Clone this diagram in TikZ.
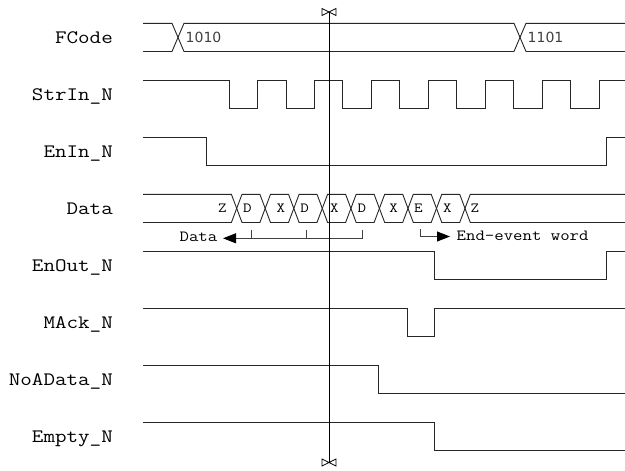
\documentclass[tikz,border=0pt]{standalone}
\usepackage{graphicx}
\usepackage{fontspec}
\newfontfamily\digitfont{DejaVu Sans}
\usetikzlibrary{arrows.meta}
\newcommand\mywide[1]{\scalebox{1.18}[1]{#1}}
\begin{document}
\begin{tikzpicture}[x=1pt,y=-1pt,
  wave/.style={draw=black!85, line width=0.9pt},
  cursorline/.style={draw=black, line width=0.8pt},
  annline/.style={draw=black!75, line width=0.9pt},
  anntip/.style={-{Triangle[length=13pt,width=10pt,color=black]}},
  siglabel/.style={anchor=base east, inner sep=0pt, font=\ttfamily\fontsize{19}{19}\selectfont},
  buslabel/.style={anchor=base, inner sep=0pt, font=\ttfamily\fontsize{14}{14}\selectfont},
  annlabel/.style={inner sep=0pt, font=\ttfamily\fontsize{15.5}{15.5}\selectfont},
  vallabel/.style={anchor=base west, inner sep=0pt, text=black!75, font=\digitfont\fontsize{14}{14}\selectfont}]
\useasboundingbox (0,0) rectangle (625,471);

% signal names
\node[siglabel] (lFCode)   at (113,43.2)  {\mywide{FCode}};
\node[siglabel] (lStrIn)   at (113,100.2) {\mywide{StrIn\_N}};
\node[siglabel] (lEnIn)    at (113,157.2) {\mywide{EnIn\_N}};
\node[siglabel] (lData)    at (113,214.2) {\mywide{Data}};
\node[siglabel] (lEnOut)   at (113,271.2) {\mywide{EnOut\_N}};
\node[siglabel] (lMAck)    at (113,328.2) {\mywide{MAck\_N}};
\node[siglabel] (lNoAData) at (113,385.2) {\mywide{NoAData\_N}};
\node[siglabel] (lEmpty)   at (113,442.2) {\mywide{Empty\_N}};

% FCode bus
\draw[wave] (143,23.3) -- (172,23.3) -- (184,51.5) -- (514,51.5) -- (526,23.3) -- (625,23.3);
\draw[wave] (143,51.5) -- (172,51.5) -- (184,23.3) -- (514,23.3) -- (526,51.5) -- (625,51.5);
\node[vallabel] (v1010) at (185.5,42.5) {1010};
\node[vallabel] (v1101) at (527.5,42.5) {1101};

% StrIn_N
\draw[wave] (143,80.3) -| (229.0,108.5) -| (257.5,80.3) -| (286.0,108.5) -| (314.4,80.3)
  -| (342.9,108.5) -| (371.4,80.3) -| (399.9,108.5) -| (428.4,80.3) -| (456.8,108.5)
  -| (485.3,80.3) -| (513.8,108.5) -| (542.3,80.3) -| (570.8,108.5) -| (599.2,80.3) -- (625,80.3);

% EnIn_N
\draw[wave] (143,137.3) -| (206.7,165.5) -| (606.7,137.3) -- (625,137.3);

% Data bus
\draw[wave] (143,194.3) -- (231.4,194.3) -- (242.0,222.5) -- (259.9,222.5) -- (270.5,194.3)
  -- (288.5,194.3) -- (299.1,222.5) -- (317.0,222.5) -- (327.6,194.3) -- (345.6,194.3)
  -- (356.2,222.5) -- (374.1,222.5) -- (384.7,194.3) -- (402.7,194.3) -- (413.3,222.5)
  -- (431.2,222.5) -- (441.8,194.3) -- (459.7,194.3) -- (470.3,222.5) -- (625,222.5);
\draw[wave] (143,222.5) -- (231.4,222.5) -- (242.0,194.3) -- (259.9,194.3) -- (270.5,222.5)
  -- (288.5,222.5) -- (299.1,194.3) -- (317.0,194.3) -- (327.6,222.5) -- (345.6,222.5)
  -- (356.2,194.3) -- (374.1,194.3) -- (384.7,222.5) -- (402.7,222.5) -- (413.3,194.3)
  -- (431.2,194.3) -- (441.8,222.5) -- (459.7,222.5) -- (470.3,194.3) -- (625,194.3);
\node[buslabel] (b0) at (222.5,212.6) {\mywide{Z}};
\node[buslabel] (b1) at (247.5,212.6) {\mywide{D}};
\node[buslabel] (b2) at (281.0,212.6) {\mywide{X}};
\node[buslabel] (b3) at (304.7,212.6) {\mywide{D}};
\node[buslabel] (b4) at (334.3,212.6) {\mywide{X}};
\node[buslabel] (b5) at (362.0,212.6) {\mywide{D}};
\node[buslabel] (b6) at (393.7,212.6) {\mywide{X}};
\node[buslabel] (b7) at (418.5,212.6) {\mywide{E}};
\node[buslabel] (b8) at (447.3,212.6) {\mywide{X}};
\node[buslabel] (b9) at (475.0,212.6) {\mywide{Z}};

% annotations under Data
\node[annlabel, anchor=base east] (adata) at (217.5,241.7) {\mywide{Data}};
\coordinate (dtip) at (223,238.3);
\coordinate (t1) at (251,230);
\coordinate (t2) at (306,230);
\coordinate (t3) at (362.7,230);
\draw[annline, anntip] (t3) |- (dtip);
\draw[annline] (t1) -- (t1 |- dtip);
\draw[annline] (t2) -- (t2 |- dtip);
\node[annlabel, anchor=base west] (aend) at (456.5,240.5) {\mywide{End-event word}};
\coordinate (t4) at (420.7,229);
\coordinate (etip) at (450,236.5);
\draw[annline, anntip] (t4) |- (etip);

% EnOut_N
\draw[wave] (143,251.3) -| (434.3,279.5) -| (606.7,251.3) -- (625,251.3);
% MAck_N
\draw[wave] (143,308.3) -| (407.7,336.5) -| (434.3,308.3) -- (625,308.3);
% NoAData_N
\draw[wave] (143,365.3) -| (378.3,393.5) -- (625,393.5);
% Empty_N
\draw[wave] (143,422.3) -| (434.3,450.5) -- (625,450.5);

% cursor
\coordinate (ctop) at (329,12);
\coordinate (cbot) at (329,462.5);
\draw[cursorline] (ctop) -- (cbot);
\draw[cursorline, line width=0.7pt] (ctop) -- ++(-7,-3.5) -- ++(0,7) -- cycle;
\draw[cursorline, line width=0.7pt] (ctop) -- ++(7,-3.5) -- ++(0,7) -- cycle;
\draw[cursorline, line width=0.7pt] (cbot) -- ++(-7,-3.5) -- ++(0,7) -- cycle;
\draw[cursorline, line width=0.7pt] (cbot) -- ++(7,-3.5) -- ++(0,7) -- cycle;
\end{tikzpicture}
\end{document}
